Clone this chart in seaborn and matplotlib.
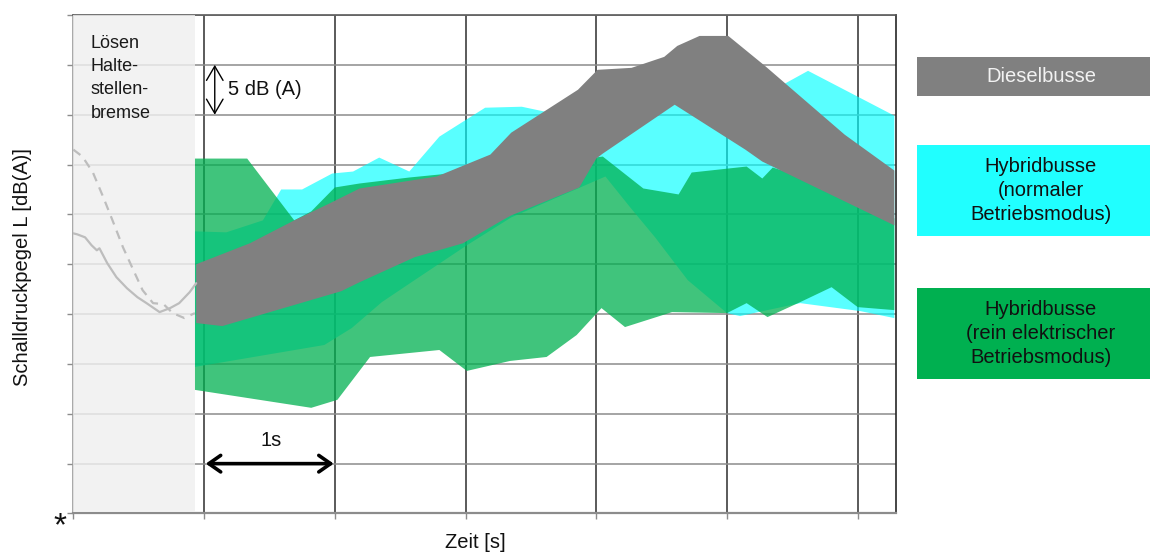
import numpy as np
import matplotlib
matplotlib.use("Agg")
import matplotlib.pyplot as plt
import seaborn as sns
from matplotlib.patches import Rectangle

# ---- data: time in s (0 = end of brake release), level in dB(A) relative to the axis origin ----
# Diesel buses: envelope of measured levels
diesel_t_upper = [-0.06, 0.35, 0.69, 0.96, 1.19, 1.78, 2.19, 2.35, 2.86, 3.01, 3.27, 3.52, 3.62, 3.79, 4.01, 4.29, 4.90, 5.28]
diesel_l_upper = [25.0, 27.1, 29.4, 31.1, 32.6, 33.8, 36.0, 38.2, 42.5, 44.5, 44.7, 45.8, 46.9, 47.9, 47.9, 44.9, 38.0, 34.4]
diesel_t_lower = [-0.06, 0.14, 1.05, 1.19, 1.61, 1.98, 2.28, 2.35, 2.87, 3.00, 3.05, 3.60, 4.14, 4.27, 5.28]
diesel_l_lower = [19.1, 18.8, 22.3, 23.2, 25.7, 27.1, 29.4, 29.9, 32.7, 35.6, 36.1, 41.0, 36.5, 35.3, 28.9]

# Hybrid buses, normal operating mode
hyb_norm_t_upper = [-0.07, 0.17, 0.45, 0.59, 0.75, 0.98, 1.14, 1.34, 1.57, 1.80, 2.15, 2.43, 2.61, 3.03, 3.79, 4.44, 4.62, 5.28]
hyb_norm_l_upper = [28.3, 28.2, 29.4, 32.5, 32.5, 34.1, 34.3, 35.7, 34.3, 37.8, 40.7, 40.8, 40.3, 40.5, 43.0, 43.1, 44.4, 39.9]
hyb_norm_t_lower = [-0.07, 0.92, 1.13, 1.36, 1.61, 2.01, 2.35, 3.07, 3.26, 3.45, 3.70, 4.00, 4.10, 4.31, 4.56, 5.02, 5.28]
hyb_norm_l_lower = [14.7, 16.9, 18.6, 21.2, 23.4, 26.9, 29.7, 33.8, 30.7, 27.7, 23.4, 20.1, 19.8, 20.4, 21.1, 20.3, 19.6]

# Hybrid buses, purely electric operating mode
hyb_el_t_upper = [-0.07, 0.33, 0.69, 0.82, 1.00, 1.19, 1.57, 1.80, 2.11, 3.05, 3.36, 3.63, 3.73, 4.15, 4.27, 4.35, 4.79, 5.28]
hyb_el_l_upper = [35.6, 35.6, 29.4, 30.3, 32.7, 33.1, 33.7, 34.0, 34.3, 35.8, 32.6, 32.0, 34.2, 34.8, 33.6, 34.7, 32.9, 29.6]
hyb_el_t_lower = [-0.07, 0.82, 1.02, 1.27, 1.80, 2.01, 2.34, 2.62, 2.85, 3.04, 3.22, 3.58, 4.00, 4.15, 4.31, 4.56, 4.80, 5.00, 5.28]
hyb_el_l_lower = [12.4, 10.6, 11.4, 15.7, 16.4, 14.3, 15.3, 15.7, 17.9, 20.6, 18.7, 20.2, 20.1, 21.1, 19.7, 21.2, 22.7, 20.7, 20.4]

# Level traces during release of the bus-stop brake
brake_solid_t = [-1.00, -0.97, -0.91, -0.86, -0.82, -0.80, -0.74, -0.67, -0.59, -0.51, -0.44, -0.34, -0.26, -0.19, -0.11, -0.06]
brake_solid_l = [28.1, 28.0, 27.7, 26.9, 26.4, 26.6, 25.1, 23.7, 22.6, 21.7, 21.1, 20.2, 20.6, 21.1, 22.2, 23.1]
brake_dash_t = [-1.00, -0.93, -0.85, -0.77, -0.70, -0.62, -0.54, -0.47, -0.39, -0.31, -0.24, -0.15, -0.07]
brake_dash_l = [36.5, 35.8, 34.2, 31.7, 29.4, 26.7, 24.4, 22.4, 21.1, 21.0, 20.1, 19.6, 20.1]

series_names = ["Dieselbusse", "Hybridbusse\n(normaler\nBetriebsmodus)",
                "Hybridbusse\n(rein elektrischer\nBetriebsmodus)"]
brake_label = "Lösen\nHalte-\nstellen-\nbremse"

# ---- style ----
sns.set_theme(style="white")
plt.rcParams["font.family"] = ["Liberation Sans", "DejaVu Sans"]

fig = plt.figure(figsize=(11.5, 5.53), dpi=100)
ax = fig.add_axes([0.06374, 0.07143, 0.71565, 0.90145])
ax.set_xlim(-1.0, 5.295)
ax.set_ylim(0, 50)

# grid: every 1 s and every 5 dB
ax.set_xticks(np.arange(-1, 6, 1))
ax.set_yticks(np.arange(0, 51, 5))
ax.set_axisbelow(True)
ax.grid(axis="y", color="#8c8c8c", lw=1.1)
ax.grid(axis="x", color="#2e2e2e", lw=1.1)
ax.tick_params(axis="both", direction="out", length=4, width=1, color="#8c8c8c",
               labelbottom=False, labelleft=False, bottom=True, left=True)
ax.spines["top"].set_color("#5a5a5a")
ax.spines["right"].set_color("#262626")
ax.spines["left"].set_color("#9a9a9a")
ax.spines["bottom"].set_color("#8c8c8c")
ax.spines["bottom"].set_linewidth(1.6)
for s in ("top", "right", "left"):
    ax.spines[s].set_linewidth(1.2)


def band(t_up, l_up, t_lo, l_lo, **kw):
    xs = np.r_[t_up, t_lo[::-1]]
    ys = np.r_[l_up, l_lo[::-1]]
    ax.fill(xs, ys, lw=0, **kw)


band(hyb_norm_t_upper, hyb_norm_l_upper, hyb_norm_t_lower, hyb_norm_l_lower,
     color="#00ffff", alpha=0.65, zorder=1.0)
band(hyb_el_t_upper, hyb_el_l_upper, hyb_el_t_lower, hyb_el_l_lower,
     color="#00b050", alpha=0.75, zorder=1.1)
band(diesel_t_upper, diesel_l_upper, diesel_t_lower, diesel_l_lower,
     color="#808080", alpha=1.0, zorder=1.2)

# shaded brake-release phase
ax.axvspan(-1.0, -0.066, ymin=0.004, ymax=1.0, color="#f0f0f0", alpha=0.82, lw=0, zorder=2.6)

sns.lineplot(x=brake_solid_t, y=brake_solid_l, ax=ax, color="#bdbdbd", lw=1.6,
             sort=False, estimator=None, zorder=3)
sns.lineplot(x=brake_dash_t, y=brake_dash_l, ax=ax, color="#bdbdbd", lw=1.6,
             sort=False, estimator=None, zorder=3, dashes=False, linestyle=(0, (4, 3)))

ax.text(-0.87, 48.0, brake_label, ha="left", va="top", fontsize=13,
        linespacing=1.48, color="#1a1a1a", zorder=4)

# scale markers
ax.annotate("", xy=(0.082, 45.0), xytext=(0.082, 40.0),
            arrowprops=dict(arrowstyle="<->,head_length=0.6,head_width=0.35",
                            lw=1.0, color="black", shrinkA=0, shrinkB=0,
                            mutation_scale=17))
ax.text(0.18, 42.5, "5 dB (A)", ha="left", va="center", fontsize=14.5, color="#111111")
ax.annotate("", xy=(0.013, 5.0), xytext=(0.992, 5.0),
            arrowprops=dict(arrowstyle="<->,head_length=0.5,head_width=0.35",
                            lw=2.6, color="black", shrinkA=0, shrinkB=0,
                            mutation_scale=17))
ax.text(0.51, 7.3, "1s", ha="center", va="center", fontsize=14.5, color="#111111")

# axis titles
fig.text(23 / 1150, 1 - 267 / 553, "Schalldruckpegel L [dB(A)]", rotation=90,
         ha="center", va="center", fontsize=14.5, color="#111111")
fig.text(475 / 1150, 1 - 542 / 553, "Zeit [s]", ha="center", va="center",
         fontsize=14.5, color="#111111")
fig.text(60 / 1150, 1 - 527 / 553, "*", ha="center", va="center", fontsize=24,
         color="#111111")

# legend boxes
box_colors = ["#808080", "#20ffff", "#00b050"]
box_tops = [57, 145, 288]
box_heights = [39, 91, 91]
text_colors = ["#f2f2f2", "#111111", "#111111"]
for name, c, top, h, tc in zip(series_names, box_colors, box_tops, box_heights, text_colors):
    fig.patches.append(Rectangle((917 / 1150, 1 - (top + h) / 553), 233 / 1150, h / 553,
                                 transform=fig.transFigure, color=c, lw=0, zorder=1))
    fig.text(1041 / 1150, 1 - (top + h / 2) / 553, name, ha="center", va="center",
             fontsize=14.5, linespacing=1.33, color=tc, zorder=2)

fig.savefig("out.png", dpi=100)
